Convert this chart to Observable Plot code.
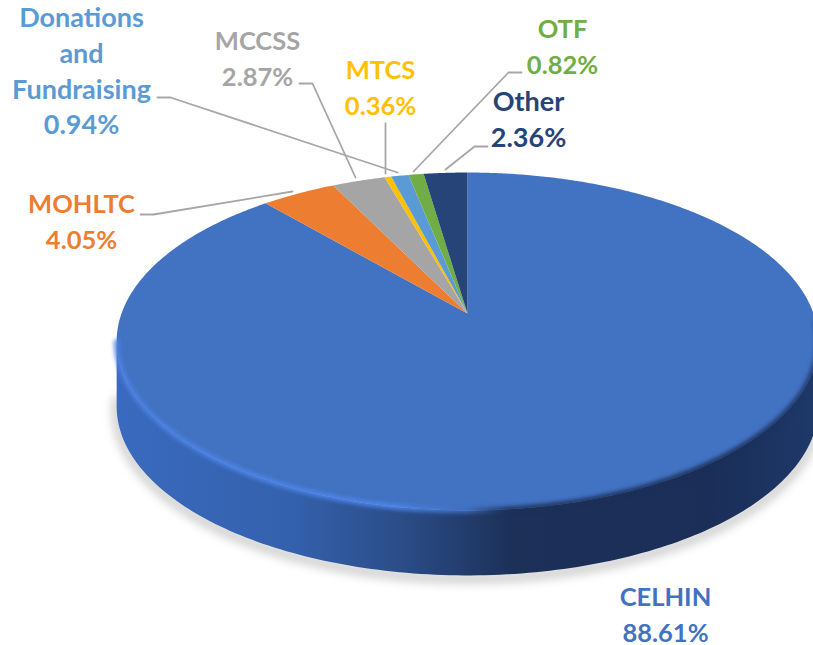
<!DOCTYPE html>
<html>
<head>
<meta charset="utf-8">
<style>html,body{margin:0;padding:0;background:#fff;overflow:hidden}svg{display:block}</style>
<script src="https://cdn.jsdelivr.net/npm/d3@7"></script>
<script src="https://cdn.jsdelivr.net/npm/@observablehq/plot@0.6"></script>
</head>
<body>
<script>
// Data, clockwise from twelve o'clock
const names = ["CELHIN", "MOHLTC", "MCCSS", "MTCS", "Donations and Fundraising", "OTF", "Other"];
const shares = [88.61, 4.05, 2.87, 0.36, 0.94, 0.82, 2.36];
const colors = ["#4272c2", "#ed7d31", "#a5a5a5", "#ffc000", "#5b9bd5", "#70ad47", "#264478"];
const labelLines = ["CELHIN", "MOHLTC", "MCCSS", "MTCS", "Donations\nand\nFundraising", "OTF", "Other"];
const total = d3.sum(shares);

// Layout of the perspective disc
const pie = {x0: 467, y0: 313, a: 346, b: 164.3, k: 0.1656, depth: 65};
const project = (deg, dy = 0) => {
  const t = deg * Math.PI / 180, d = Math.cos(t), w = 1 + pie.k * d;
  return {x: pie.x0 + pie.a * Math.sin(t) / w, y: pie.y0 - pie.b * d / w + dy};
};
const arc = (from, to, dy = 0, step = 1) => {
  const n = Math.max(2, Math.ceil(Math.abs(to - from) / step));
  return d3.range(n + 1).map(i => project(from + (to - from) * i / n, dy));
};

// Slices
let cum = 0;
const slicePts = [];
names.forEach((name, i) => {
  const from = cum / total * 360;
  cum += shares[i];
  const to = cum / total * 360;
  const pts = [{x: pie.x0, y: pie.y0}, ...arc(from, to, 0, 0.5), {x: pie.x0, y: pie.y0}];
  pts.forEach(p => slicePts.push({...p, name}));
});

// Left and right silhouette angles of the disc
const edge = Math.acos(-pie.k) * 180 / Math.PI;
const sidePts = [...arc(edge, 360 - edge, pie.depth), ...arc(360 - edge, edge, 0)];
const rimFront = arc(edge - 6, 360 - edge, 0);

// Label and leader layout (in pixels)
const labelPos = [[665, 612], [81, 219], [257, 56], [380, 85], [81, 69], [562, 44], [528, 117]];
const labels = names.map((name, i) => ({
  name, x: labelPos[i][0], y: labelPos[i][1],
  mixed: /[a-z]/.test(labelLines[i]),
  text: `${labelLines[i]}\n${shares[i].toFixed(2)}%`
}));
const leaders = [
  ["MOHLTC", [[140, 214], [153, 214], [292, 191]]],
  ["MCCSS", [[299, 83], [312, 83], [355, 177]]],
  ["MTCS", [[385, 123], [385, 173]]],
  ["Donations and Fundraising", [[157, 97], [170, 97], [397, 172]]],
  ["OTF", [[521, 72], [508, 72], [413, 171]]],
  ["Other", [[487, 146], [474, 146], [445, 169]]]
].flatMap(([name, pts]) => pts.map(([x, y]) => ({name, x, y})));

const gradient = (id, stops) => {
  const g = d3.create("svg:linearGradient").attr("id", id)
    .attr("gradientUnits", "userSpaceOnUse")
    .attr("x1", 116).attr("x2", 813).attr("y1", 0).attr("y2", 0);
  stops.forEach(([o, c]) => g.append("stop").attr("offset", o).attr("stop-color", c));
  return g.node();
};

const labelFont = {
  x: "x", y: "y", text: "text", fill: "name", textAnchor: "middle",
  fontFamily: "Lato, 'Open Sans', sans-serif", fontWeight: 700
};

const chart = Plot.plot({
  width: 813,
  height: 645,
  margin: 0,
  x: {domain: [0, 813], range: [0, 813], axis: null},
  y: {domain: [0, 645], range: [0, 645], axis: null},
  color: {type: "ordinal", domain: names, range: colors},
  style: {background: "#fff", overflow: "hidden"},
  marks: [
    () => {
      const defs = d3.create("svg:defs");
      defs.append(() => gradient("side", [
        [0, "#3a6abf"], [0.25, "#3461ad"], [0.4, "#2c4e8a"], [0.57, "#1c3058"], [0.85, "#1a2e58"], [1, "#1e3868"]
      ]));
      defs.append(() => gradient("rim", [
        [0, "#4c82e2"], [0.4, "#4f88ee"], [0.5, "#3f6fc0"], [0.56, "#1c3058"], [0.9, "#1a2e58"], [1, "#1e3868"]
      ]));
      return defs.node();
    },
    // soft shadow below the disc
    Plot.line(arc(edge - 3, 360 - edge + 3, pie.depth + 3), {
      x: "x", y: "y", stroke: "#cfcfcf", strokeWidth: 10, imageFilter: "blur(5px)"
    }),
    // the side wall
    Plot.line(sidePts, {x: "x", y: "y", fill: "url(#side)", stroke: "none"}),
    // the top face
    Plot.line(slicePts, {x: "x", y: "y", z: "name", fill: "name", stroke: "none"}),
    // bevel along the front edge
    Plot.line(rimFront, {
      x: "x", y: "y", stroke: "url(#rim)", strokeWidth: 5, imageFilter: "blur(2px)"
    }),
    // leaders
    Plot.line(leaders, {x: "x", y: "y", z: "name", stroke: "#a6a6a6", strokeWidth: 1.8}),
    // labels
    Plot.text(labels.filter(d => !d.mixed), {...labelFont, fontSize: 25.5, lineHeight: 1.41}),
    Plot.text(labels.filter(d => d.mixed), {...labelFont, fontSize: 27, lineHeight: 1.32})
  ]
});
document.body.append(chart);
</script>
</body>
</html>
